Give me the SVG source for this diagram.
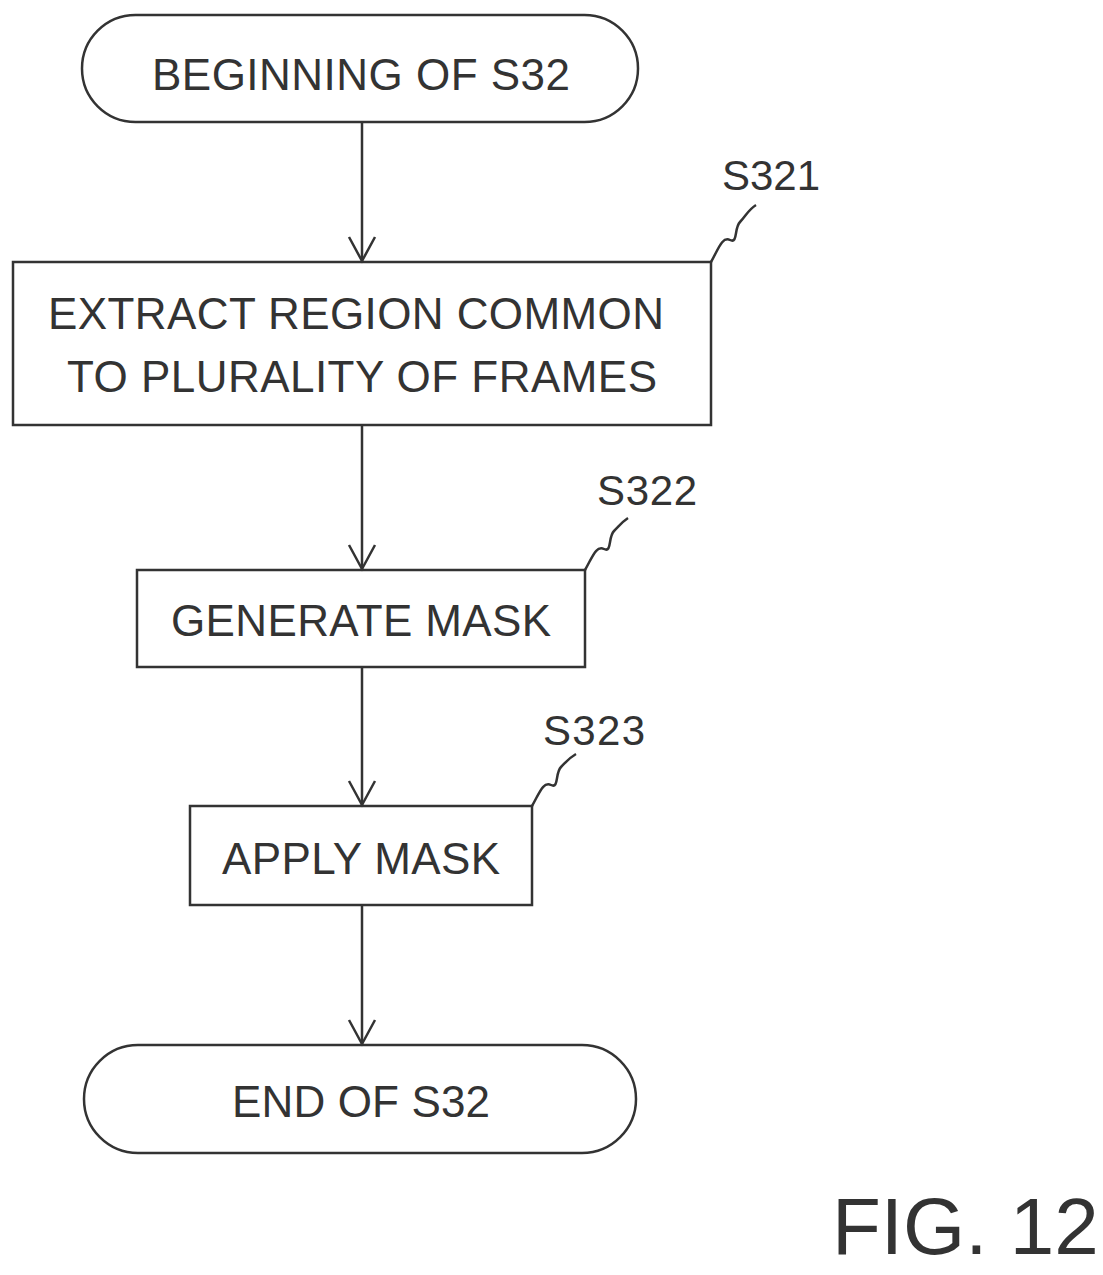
<svg xmlns="http://www.w3.org/2000/svg" width="1103" height="1275" viewBox="0 0 1103 1275">
<style>
.s{fill:none;stroke:#333;stroke-width:2.5}
.t{font-family:"Liberation Sans",Arial,sans-serif;font-size:44px;fill:#333;text-anchor:middle}
.l{font-family:"Liberation Sans",Arial,sans-serif;font-size:42px;fill:#333}
</style>
<defs><marker id="a" markerWidth="32" markerHeight="32" refX="28" refY="16" orient="auto" markerUnits="userSpaceOnUse"><path d="M4,3 L28,16 L4,29" fill="none" stroke="#333" stroke-width="2.5"/></marker></defs>
<rect width="1103" height="1275" fill="#fff"/>
<g id="start"><rect class="s" x="82" y="15" width="556" height="107" rx="53.5"/><text class="t" x="361" y="90" textLength="418">BEGINNING OF S32</text></g>
<g id="s321"><rect class="s" x="13" y="262" width="698" height="163"/><text class="t" x="356" y="329" textLength="616">EXTRACT REGION COMMON</text><text class="t" x="362" y="392" textLength="590">TO PLURALITY OF FRAMES</text>
<text class="l" x="722" y="190" textLength="98">S321</text><path class="s" d="M711,262 C718,250 722,236 730,240 C738,244 734,228 740,222 C746,216 748,210 756,205"/></g>
<g id="s322"><rect class="s" x="137" y="570" width="448" height="97"/><text class="t" x="361" y="636" textLength="380">GENERATE MASK</text>
<text class="l" x="597" y="505" textLength="100">S322</text><path class="s" d="M585,570 C592,558 596,545 604,549 C612,553 608,537 614,531 C620,525 622,522 628,518"/></g>
<g id="s323"><rect class="s" x="190" y="806" width="342" height="99"/><text class="t" x="361" y="874" textLength="278">APPLY MASK</text>
<text class="l" x="543" y="745" textLength="102">S323</text><path class="s" d="M532,806 C539,794 543,781 551,785 C559,789 555,773 561,767 C567,761 569,758 576,754"/></g>
<g id="end"><rect class="s" x="84" y="1045" width="552" height="108" rx="54"/><text class="t" x="361" y="1117" textLength="258">END OF S32</text></g>
<g id="connectors">
<line class="s" x1="362" y1="122" x2="362" y2="261" marker-end="url(#a)"/>
<line class="s" x1="362" y1="425" x2="362" y2="569" marker-end="url(#a)"/>
<line class="s" x1="362" y1="667" x2="362" y2="805" marker-end="url(#a)"/>
<line class="s" x1="362" y1="905" x2="362" y2="1044" marker-end="url(#a)"/>
</g>
<text x="832" y="1254" font-family="Liberation Sans,Arial,sans-serif" font-size="80" fill="#333">FIG. 12</text>
</svg>
